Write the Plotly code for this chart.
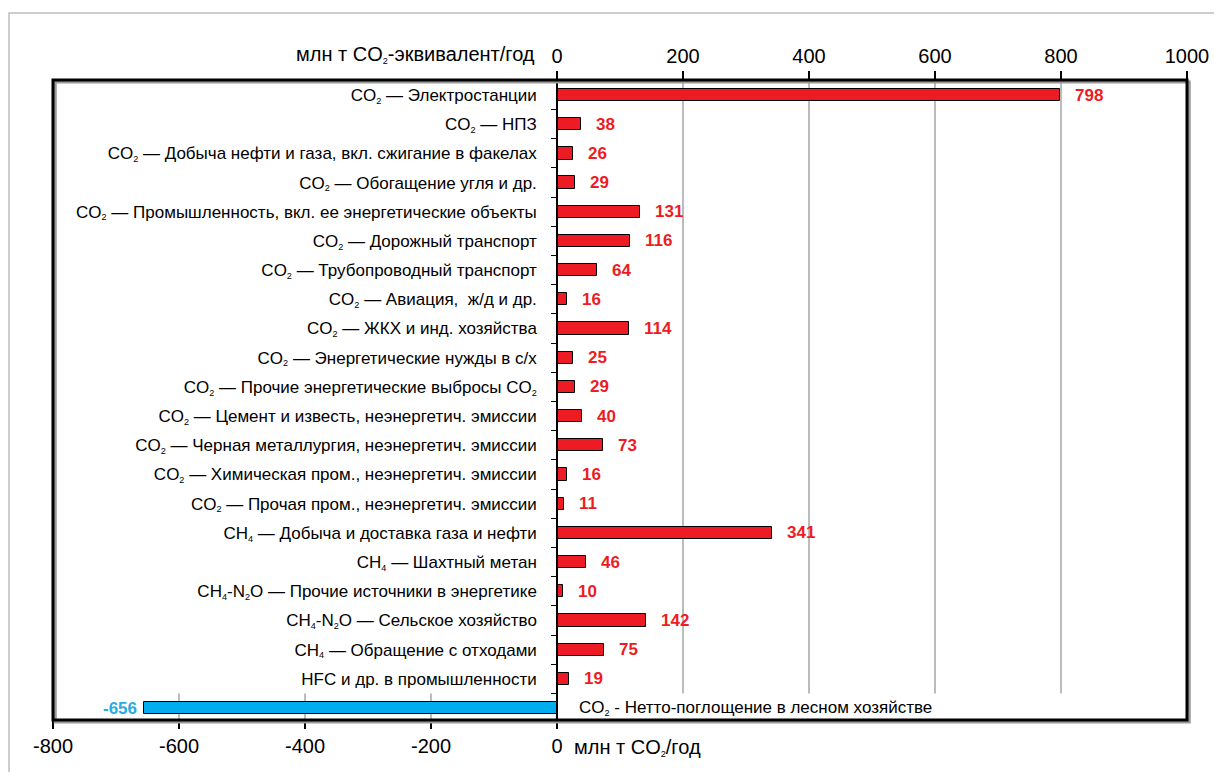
import plotly.graph_objects as go

S2 = '<span style="font-size:13px"><sub>2</sub></span>'
S4 = '<span style="font-size:13px"><sub>4</sub></span>'

categories = [
    f"CO{S2} — Электростанции",
    f"CO{S2} — НПЗ",
    f"CO{S2} — Добыча нефти и газа, вкл. сжигание в факелах",
    f"CO{S2} — Обогащение угля и др.",
    f"CO{S2} — Промышленность, вкл. ее энергетические объекты",
    f"CO{S2} — Дорожный транспорт",
    f"CO{S2} — Трубопроводный транспорт",
    f"CO{S2} — Авиация,  ж/д и др.",
    f"CO{S2} — ЖКХ и инд. хозяйства",
    f"CO{S2} — Энергетические нужды в с/х",
    f"CO{S2} — Прочие энергетические выбросы CO{S2}",
    f"CO{S2} — Цемент и известь, неэнергетич. эмиссии",
    f"CO{S2} — Черная металлургия, неэнергетич. эмиссии",
    f"CO{S2} — Химическая пром., неэнергетич. эмиссии",
    f"CO{S2} — Прочая пром., неэнергетич. эмиссии",
    f"CH{S4} — Добыча и доставка газа и нефти",
    f"CH{S4} — Шахтный метан",
    f"CH{S4}-N{S2}O — Прочие источники в энергетике",
    f"CH{S4}-N{S2}O — Сельское хозяйство",
    f"CH{S4} — Обращение с отходами",
    "HFC и др. в промышленности",
    f"CO{S2} - Нетто-поглощение в лесном хозяйстве",
]
values = [798, 38, 26, 29, 131, 116, 64, 16, 114, 25, 29, 40, 73, 16, 11,
          341, 46, 10, 142, 75, 19, -656]

top_ticks = [0, 200, 400, 600, 800, 1000]
bottom_ticks = [-800, -600, -400, -200, 0]
top_title = f"млн т CO{S2}-эквивалент/год"
bottom_title = f"млн т CO{S2}/год"

RED = "#ED1C24"
BLUE = "#00AEEF"
BLUE_TXT = "#29ABE2"
FONT = "Liberation Sans, Arial, sans-serif"

xmin, xmax = bottom_ticks[0], top_ticks[-1]
n = len(categories)

colors = [RED if v >= 0 else BLUE for v in values]

fig = go.Figure()
fig.add_trace(go.Bar(
    x=values, y=categories, orientation="h",
    marker=dict(color=colors, line=dict(color="black", width=1)),
    width=0.42, xaxis="x", yaxis="y", hoverinfo="x",
))
fig.add_trace(go.Scatter(
    x=[0], y=[categories[0]], mode="markers", marker=dict(opacity=0),
    xaxis="x2", yaxis="y", showlegend=False, hoverinfo="skip",
))

shapes = []
for t in top_ticks:
    if 0 < t < xmax:
        shapes.append(dict(type="line", xref="x", yref="y", x0=t, x1=t,
                           y0=-0.6, y1=n - 1.5,
                           line=dict(color="#A6A6A6", width=1.5), layer="below"))
for t in bottom_ticks:
    if xmin < t < 0:
        shapes.append(dict(type="line", xref="x", yref="y", x0=t, x1=t,
                           y0=n - 1.5, y1=n - 0.5,
                           line=dict(color="#A6A6A6", width=1.5), layer="below"))
shapes.append(dict(type="rect", xref="paper", yref="paper", x0=0.002, x1=1.002,
                   y0=-0.003, y1=0.997, line=dict(color="#9A9A9A", width=3), layer="above"))
shapes.append(dict(type="rect", xref="paper", yref="paper", x0=0, x1=1, y0=0, y1=1,
                   line=dict(color="black", width=3), layer="above"))
shapes.append(dict(type="rect", xref="paper", yref="paper",
                   x0=(9 - 53) / 1134, x1=1.06, y0=-0.15, y1=(720 - 13) / 640,
                   line=dict(color="#BDBDBD", width=1.5), layer="below"))

annotations = []
for c, v in zip(categories, values):
    if v >= 0:
        annotations.append(dict(x=v, y=c, xref="x", yref="y", text=f"<b>{v}</b>",
                                showarrow=False, xanchor="left", xshift=13,
                                font=dict(family=FONT, size=17, color=RED)))
    else:
        annotations.append(dict(x=v, y=c, xref="x", yref="y", text=f"<b>{v}</b>",
                                showarrow=False, xanchor="right", xshift=-5,
                                font=dict(family=FONT, size=17, color=BLUE_TXT)))
        annotations.append(dict(x=0, y=c, xref="x", yref="y", text=c,
                                showarrow=False, xanchor="left", xshift=20,
                                font=dict(family=FONT, size=17, color="black")))
annotations.append(dict(x=0, y=1, xref="x", yref="paper", text=top_title,
                        showarrow=False, xanchor="right", yanchor="bottom",
                        xshift=-20, yshift=12,
                        font=dict(family=FONT, size=20, color="black")))
annotations.append(dict(x=0, y=0, xref="x", yref="paper", text=bottom_title,
                        showarrow=False, xanchor="left", yanchor="top",
                        xshift=15, yshift=-14,
                        font=dict(family=FONT, size=20, color="black")))

ticktext = categories[:-1] + [""]

fig.update_layout(
    width=1206, height=764,
    margin=dict(l=45, r=27, t=72, b=52, autoexpand=False),
    paper_bgcolor="white", plot_bgcolor="white",
    showlegend=False,
    bargap=0,
    xaxis=dict(range=[xmin, xmax], tickmode="array", tickvals=bottom_ticks,
               ticktext=[str(t) for t in bottom_ticks],
               ticks="outside", ticklen=8, tickwidth=1.5, tickcolor="black",
               showgrid=False, zeroline=False, showline=False,
               tickfont=dict(family=FONT, size=20, color="black"),
               anchor="y", fixedrange=True),
    xaxis2=dict(range=[xmin, xmax], overlaying="x", side="top", tickmode="array",
                tickvals=top_ticks, ticktext=[str(t) for t in top_ticks],
                ticks="outside", ticklen=8, tickwidth=1.5,
                tickcolor="black", showgrid=False, zeroline=False, showline=False,
                tickfont=dict(family=FONT, size=20, color="black"),
                anchor="y", fixedrange=True),
    yaxis=dict(type="category", categoryorder="array", categoryarray=categories,
               range=[n - 0.59, -0.514], anchor="free",
               position=(0 - xmin) / (xmax - xmin),
               showline=True, linecolor="black", linewidth=1.5,
               ticks="outside", ticklen=5, tickwidth=1.2, tickcolor="black",
               tickson="boundaries", tickmode="array", tickvals=categories,
               ticktext=ticktext, ticklabelstandoff=16,
               showgrid=False, zeroline=False,
               tickfont=dict(family=FONT, size=17, color="black"),
               automargin=False, fixedrange=True),
    shapes=shapes,
    annotations=annotations,
)

fig.write_html("out.html")
